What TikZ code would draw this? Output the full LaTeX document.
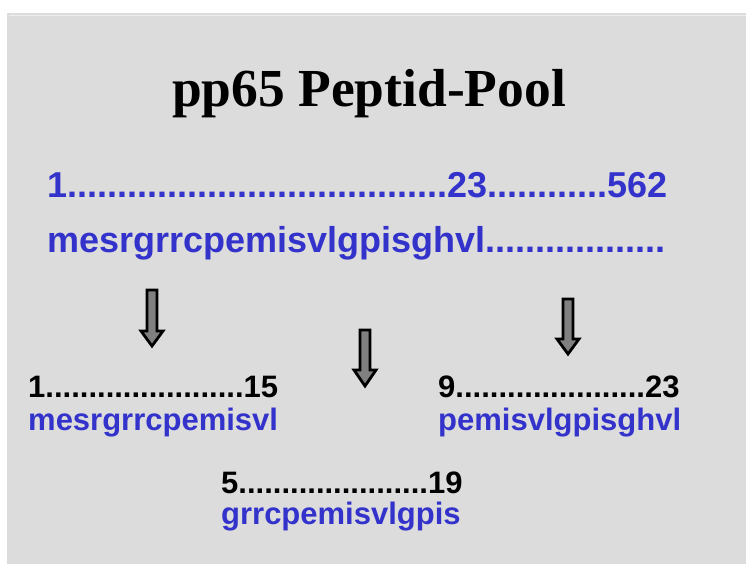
\documentclass[tikz,border=0pt]{standalone}
\usepackage{fontspec}
\setmainfont{Liberation Sans}
\newfontfamily\titlefont{Liberation Serif}
\definecolor{bgray}{RGB}{220,220,220}
\definecolor{pblue}{RGB}{51,51,204}
\definecolor{agray}{RGB}{128,128,128}
\begin{document}
\begin{tikzpicture}[x=1pt,y=-1pt,
  bluebig/.style={anchor=base west,inner sep=0pt,text=pblue,font=\fontsize{36}{36}\selectfont\bfseries},
  smallblack/.style={anchor=base west,inner sep=0pt,text=black,font=\fontsize{31}{31}\selectfont\bfseries},
  smallblue/.style={anchor=base west,inner sep=0pt,text=pblue,font=\fontsize{31}{31}\selectfont\bfseries},
  blockarrow/.style={draw=black,fill=agray,line width=2.8pt,line join=miter}]
\useasboundingbox (0,0) rectangle (746,564);
\fill[white] (0,0) rectangle (746,564);
\fill[bgray] (7,13) rectangle (746,564);
\draw[white!93!black,line width=1pt] (9,15.5) -- (746,15.5);
\node[anchor=base,inner sep=0pt,font=\titlefont\fontsize{53.5}{53.5}\selectfont\bfseries] (title) at (369,107) {pp65 Peptid-Pool};
\node[bluebig] (numbers) at (47,197) {1......................................23............562};
\node[bluebig] (sequence) at (47,252) {mesrgrrcpemisvlgpisghvl..................};
\node[smallblack] (n1) at (28,397) {1.......................15};
\node[smallblue] (s1) at (28,430) {mesrgrrcpemisvl};
\node[smallblack] (n2) at (438,397) {9......................23};
\node[smallblue] (s2) at (438,430) {pemisvlgpisghvl};
\node[smallblack] (n3) at (221,493) {5......................19};
\node[smallblue] (s3) at (221,524) {grrcpemisvlgpis};
% block arrows
\foreach \cx/\t/\h/\b in {152/290/331/346, 365/330/370/386, 568/299/339/354}{
  \draw[blockarrow] (\cx-5,\t) -- (\cx+5,\t) -- (\cx+5,\h) -- (\cx+11,\h) -- (\cx,\b) -- (\cx-11,\h) -- (\cx-5,\h) -- cycle;
}
\end{tikzpicture}
\end{document}
